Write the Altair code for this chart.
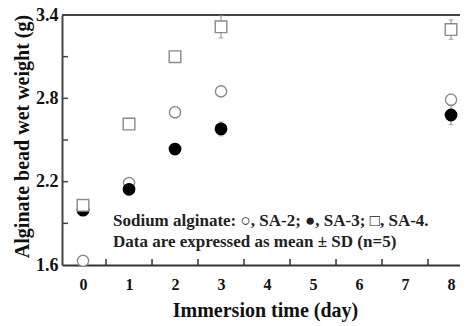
import altair as alt
import pandas as pd

days = [0, 1, 2, 3, 8]
series_names = ["SA-2", "SA-3", "SA-4"]
sa2_mean = [1.63, 2.19, 2.70, 2.85, 2.79]
sa2_sd = [0.01, 0.02, 0.04, 0.02, 0.04]
sa3_mean = [1.995, 2.145, 2.435, 2.58, 2.68]
sa3_sd = [0.02, 0.04, 0.03, 0.05, 0.07]
sa4_mean = [2.03, 2.615, 3.10, 3.315, 3.295]
sa4_sd = [0.02, 0.02, 0.04, 0.08, 0.07]

x_label_values = [0, 1, 2, 3, 4, 5, 6, 7, 8]
x_tick_values = [0.5, 1.5, 2.5, 3.5, 4.5, 5.5, 6.5, 7.5]
y_label_values = [1.6, 2.2, 2.8, 3.4]
y_tick_values = [1.9, 2.2, 2.5, 2.8, 3.1]
note_lines = ["Sodium alginate: \u25cb, SA-2; \u25cf, SA-3; \u25a1, SA-4.",
              "Data are expressed as mean \u00b1 SD (n=5)"]

rows = []
for name, means, sds in zip(series_names, [sa2_mean, sa3_mean, sa4_mean], [sa2_sd, sa3_sd, sa4_sd]):
    for d, m, s in zip(days, means, sds):
        rows.append({"day": d, "mean": m, "sd": s, "series": name})
df = pd.DataFrame(rows)

W, H = 398, 250
FONT = "Times New Roman, Liberation Serif, Tinos, DejaVu Serif, serif"

xscale = alt.Scale(domain=[-0.457, 8.195], nice=False, zero=False)
yscale = alt.Scale(domain=[1.6, 3.4], nice=False, zero=False)

base = alt.Chart(df).transform_calculate(lo="datum.mean - datum.sd", hi="datum.mean + datum.sd")

err = base.mark_rule(color="#888888", strokeWidth=1).encode(
    x=alt.X("day:Q", scale=xscale,
            axis=alt.Axis(values=x_label_values, title="Immersion time (day)", tickSize=0,
                          labelPadding=11, labelFontSize=16, labelFont=FONT, labelFontWeight="bold",
                          labelColor="#111", titleFont=FONT, titleFontSize=20, titleFontWeight="bold",
                          titleColor="#111", titleX=203, titleY=45, titleBaseline="middle",
                          domainColor="#333", domainWidth=2, grid=False, labelFlush=False)),
    y=alt.Y("lo:Q", scale=yscale,
            axis=alt.Axis(values=y_label_values, title="Alginate bead wet weight (g)", tickSize=0,
                          labelPadding=4, labelFontSize=18, labelFont=FONT, labelFontWeight="bold",
                          labelColor="#111", titleFont=FONT, titleFontSize=20, titleFontWeight="bold",
                          titleColor="#111", titleX=-40, titleY=121, titleBaseline="middle",
                          domainColor="#444", domainWidth=2, grid=False, labelFlush=False,
                          format=".1f")),
    y2="hi:Q",
)
cap_lo = base.mark_tick(color="#888888", orient="horizontal", size=5, thickness=1).encode(
    x=alt.X("day:Q", scale=xscale), y=alt.Y("lo:Q", scale=yscale))
cap_hi = base.mark_tick(color="#888888", orient="horizontal", size=5, thickness=1).encode(
    x=alt.X("day:Q", scale=xscale), y=alt.Y("hi:Q", scale=yscale))

pts = base.mark_point(filled=False, strokeWidth=1.4, opacity=1).encode(
    x=alt.X("day:Q", scale=xscale),
    y=alt.Y("mean:Q", scale=yscale),
    shape=alt.Shape("series:N", scale=alt.Scale(domain=series_names, range=["circle", "circle", "square"]), legend=None),
    fill=alt.Fill("series:N", scale=alt.Scale(domain=series_names, range=["white", "black", "white"]), legend=None),
    stroke=alt.Stroke("series:N", scale=alt.Scale(domain=series_names, range=["#8a8a8a", "black", "#8a8a8a"]), legend=None),
    size=alt.Size("series:N", scale=alt.Scale(domain=series_names, range=[125, 135, 135]), legend=None),
)

ytick_df = pd.DataFrame({"v": y_tick_values})
yticks = alt.Chart(ytick_df).mark_rule(color="#444", strokeWidth=1.5).encode(
    y=alt.Y("v:Q", scale=yscale), x=alt.value(0), x2=alt.value(6))
xtick_df = pd.DataFrame({"v": x_tick_values})
xticks = alt.Chart(xtick_df).mark_rule(color="#333", strokeWidth=1.5).encode(
    x=alt.X("v:Q", scale=xscale), y=alt.value(H), y2=alt.value(H - 6))
top_line = alt.Chart(pd.DataFrame({"a": [0]})).mark_rule(color="#444", strokeWidth=2).encode(
    y=alt.value(0), x=alt.value(0), x2=alt.value(W))

note_df = pd.DataFrame({"t": note_lines, "i": [0, 1]})
note = alt.Chart(note_df).mark_text(align="left", baseline="middle", font=FONT, fontSize=17,
                                    fontWeight="bold", color="#222").encode(
    text="t:N", x=alt.value(51),
    y=alt.Y("i:Q", scale=alt.Scale(domain=[0, 1], range=[206, 227]), axis=None))

chart = alt.layer(top_line, err, cap_lo, cap_hi, pts, yticks, xticks, note).resolve_scale(
    y="independent").properties(
    width=W, height=H,
    autosize=alt.AutoSizeParams(type="none"),
    padding={"left": 54, "top": 7, "right": 0, "bottom": 60},
).configure_view(stroke=None)

chart.save("out.html", embed_options={"renderer": "svg", "actions": False})
